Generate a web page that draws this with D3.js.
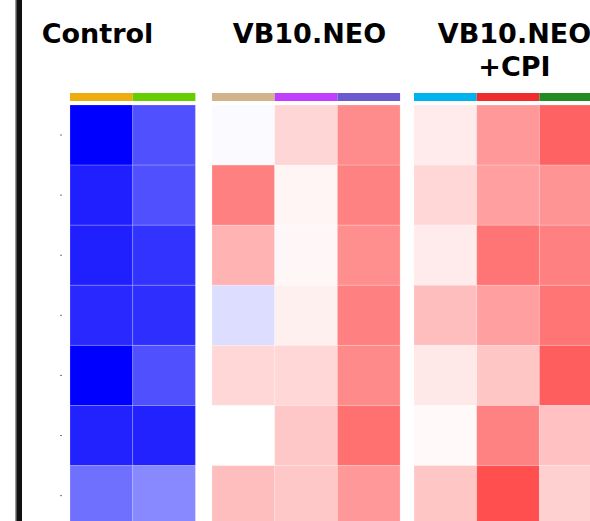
<!DOCTYPE html>
<html>
<head>
<meta charset="utf-8">
<script src="https://cdnjs.cloudflare.com/ajax/libs/d3/7.8.5/d3.min.js"></script>
<style>
  body { margin: 0; background: #fff; overflow: hidden; }
  text { font-family: "DejaVu Sans", Verdana, sans-serif; font-weight: bold; }
</style>
</head>
<body>
<div id="chart"></div>
<script>
// rows shown (the heatmap continues below the visible area)
const rows = ["r1", "r2", "r3", "r4", "r5", "r6", "r7"];

const groupNames = ["Control", "VB10.NEO", "VB10.NEO\n+CPI"];
const groupSamples = [
  ["C1", "C2"],
  ["N1", "N2", "N3"],
  ["P1", "P2", "P3"]
];
const sampleColors = [
  ["#EEAD0E", "#66CD00"],
  ["#D2B48C", "#BF3EFF", "#6A5ACD"],
  ["#00B2EE", "#EE2C2C", "#228B22"]
];

// z-scores per row, one array per sample column
const controlValues = [
  [-2.00, -1.76, -1.75, -1.69, -2.00, -1.73, -1.12],
  [-1.37, -1.37, -1.60, -1.64, -1.37, -1.73, -0.93]
];
const neoValues = [
  [-0.04, 1.00, 0.60, -0.27, 0.31, 0.00, 0.51],
  [0.32, 0.08, 0.06, 0.12, 0.31, 0.43, 0.43],
  [0.90, 0.98, 0.89, 1.00, 0.92, 1.12, 0.80]
];
const cpiValues = [
  [0.16, 0.31, 0.16, 0.51, 0.18, 0.05, 0.45],
  [0.80, 0.75, 1.08, 0.75, 0.45, 0.98, 1.38],
  [1.23, 0.84, 1.00, 1.08, 1.26, 0.49, 0.37]
];
const groupValues = [controlValues, neoValues, cpiValues];

const w = 590;
const h = 521;
const colW = 62.7;
const groupX = [70, 212, 414];
const titleX = [97.5, 309.5, 514.5];
const heatTop = 105;
const rowH = 60.1;

const svg = d3.select("#chart")
  .append("svg")
  .attr("width", w)
  .attr("height", h);

const color = d3.scaleLinear()
  .domain([-2, 0, 2])
  .range(["#0000FF", "#FFFFFF", "#FF0000"]);

const yScale = d3.scaleBand()
  .domain(rows)
  .range([heatTop, heatTop + rows.length * rowH]);

// left border line
svg.append("rect")
  .attr("x", 15).attr("y", 0)
  .attr("width", 2).attr("height", h)
  .attr("fill", "#999");
svg.append("rect")
  .attr("x", 16.5).attr("y", 0)
  .attr("width", 5.5).attr("height", h)
  .attr("fill", "#111");

// row ticks
const yAxis = d3.axisLeft(yScale).tickSize(2).tickFormat("");
svg.append("g")
  .attr("transform", "translate(62, 0)")
  .call(yAxis)
  .call(g => g.select(".domain").remove())
  .call(g => g.selectAll(".tick line").attr("stroke", "#777"));

groupNames.forEach((name, gi) => {
  const samples = groupSamples[gi];
  const xScale = d3.scaleBand()
    .domain(samples)
    .range([groupX[gi], groupX[gi] + samples.length * colW]);

  const g = svg.append("g");

  // title
  const lines = name.split("\n");
  g.append("text")
    .attr("x", titleX[gi])
    .attr("y", 43)
    .attr("text-anchor", "middle")
    .attr("font-size", 27)
    .selectAll("tspan")
    .data(lines)
    .enter()
    .append("tspan")
    .attr("x", titleX[gi])
    .attr("dy", (d, i) => i === 0 ? 0 : 32.5)
    .text(d => d);

  // annotation bar
  g.selectAll("rect.anno")
    .data(samples)
    .enter()
    .append("rect")
    .attr("class", "anno")
    .attr("x", d => xScale(d))
    .attr("y", 93)
    .attr("width", xScale.bandwidth())
    .attr("height", 8)
    .attr("fill", (d, i) => sampleColors[gi][i]);

  // cells
  const cells = [];
  samples.forEach((s, si) => {
    rows.forEach((r, ri) => {
      cells.push({ s: s, r: r, v: groupValues[gi][si][ri] });
    });
  });

  g.selectAll("rect.cell")
    .data(cells)
    .enter()
    .append("rect")
    .attr("class", "cell")
    .attr("x", d => xScale(d.s))
    .attr("y", d => yScale(d.r))
    .attr("width", xScale.bandwidth())
    .attr("height", yScale.bandwidth())
    .attr("fill", d => color(d.v))
    .attr("stroke", "#fff")
    .attr("stroke-opacity", 0.18)
    .attr("stroke-width", 1);
});
</script>
</body>
</html>
